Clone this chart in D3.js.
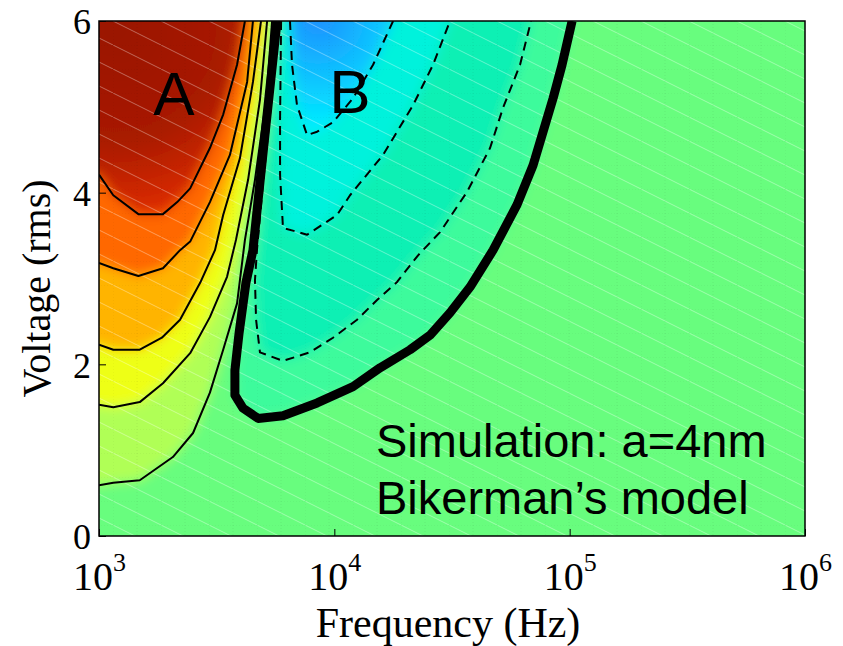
<!DOCTYPE html>
<html>
<head>
<meta charset="utf-8">
<script src="https://cdn.jsdelivr.net/npm/d3@7"></script>
<style>
  body { margin: 0; background: #fff; }
  text { fill: #000; }
</style>
</head>
<body>
<svg id="chart" width="843" height="646"></svg>
<script>
// contour lines, as [frequency (Hz), voltage (rms)]
// positive levels (region A), from the innermost outwards
const contourA1 = [[4170, 6.0], [3860, 5.49], [3370, 4.91], [2960, 4.52], [2440, 4.05], [2150, 3.89], [1870, 3.75], [1470, 3.75], [1150, 3.97], [1000, 4.21]];
const contourA2 = [[4510, 6.0], [4260, 5.29], [3600, 4.44], [2960, 3.89], [2440, 3.43], [2210, 3.33], [1870, 3.12], [1470, 3.03], [1150, 3.12], [1000, 3.18]];
const contourA3 = [[4880, 6.0], [4510, 5.29], [3970, 4.40], [3370, 3.74], [3110, 3.33], [2690, 2.95], [2210, 2.52], [1850, 2.31], [1490, 2.17], [1150, 2.17], [1000, 2.23]];
const contourA4 = [[5180, 6.0], [4830, 5.08], [4300, 4.15], [3820, 3.45], [3500, 3.02], [2960, 2.55], [2440, 2.13], [1870, 1.78], [1490, 1.56], [1150, 1.50], [1000, 1.53]];
const contourA5 = [[5440, 6.0], [5130, 5.08], [4600, 4.15], [4170, 3.45], [3860, 2.71], [3370, 2.17], [2960, 1.67], [2510, 1.20], [2060, 0.92], [1490, 0.65], [1150, 0.62], [1000, 0.59]];

// zero level (thick line)
const contourZero = [[5710, 6.0], [5180, 4.91], [4830, 4.12], [4510, 3.33], [4210, 2.95], [3940, 2.37], [3780, 1.93], [3780, 1.64], [4090, 1.49], [4740, 1.37], [6050, 1.40], [8450, 1.55], [12010, 1.74], [15640, 1.96], [20980, 2.17], [25510, 2.34], [31020, 2.60], [37730, 2.90], [47260, 3.33], [59780, 3.86], [69900, 4.32], [85030, 5.10], [92840, 5.49], [102400, 6.0]];

// negative levels (region B), dashed, from the outermost inwards
const contourB3 = [[5820, 6.0], [5330, 4.91], [4980, 4.12], [4690, 3.33], [4600, 2.98], [4650, 2.52], [4830, 2.14], [6050, 2.04], [7880, 2.14], [9870, 2.31], [12490, 2.52], [15190, 2.75], [18480, 2.96], [22690, 3.27], [28140, 3.54], [36640, 4.01], [45890, 4.52], [52120, 4.99], [61540, 5.49], [68550, 6.0]];
const contourB2 = [[5940, 6.0], [5880, 4.85], [5880, 4.21], [6050, 3.59], [7660, 3.51], [10270, 3.74], [11660, 3.97], [16110, 4.44], [21610, 5.02], [26270, 5.49], [31020, 6.0]];
const contourB1 = [[6480, 6.0], [6610, 5.49], [6940, 5.02], [7660, 4.67], [8450, 4.71], [9870, 4.82], [12010, 5.10], [14610, 5.49], [17770, 6.0]];

const xTicks = [1e3, 1e4, 1e5, 1e6];
const yTicks = [0, 2, 4, 6];

const width = 843;
const height = 646;
const margin = { top: 21, right: 38, bottom: 110, left: 99 };
const plotW = width - margin.left - margin.right;
const plotH = height - margin.top - margin.bottom;

const x = d3.scaleLog().domain([1e3, 1e6]).range([margin.left, margin.left + plotW]);
const y = d3.scaleLinear().domain([0, 6]).range([margin.top + plotH, margin.top]);

const svg = d3.select('#chart');
const defs = svg.append('defs');

defs.append('clipPath').attr('id', 'plot-clip')
    .append('rect')
    .attr('x', margin.left).attr('y', margin.top)
    .attr('width', plotW).attr('height', plotH);

defs.append('filter').attr('id', 'smooth')
    .attr('x', -0.2).attr('y', -0.2).attr('width', 1.4).attr('height', 1.4)
    .append('feGaussianBlur').attr('stdDeviation', 6);

// dark red core inside the innermost A contour
const redGrad = defs.append('radialGradient').attr('id', 'red-core')
    .attr('gradientUnits', 'userSpaceOnUse')
    .attr('cx', 115).attr('cy', 30).attr('r', 200);
redGrad.append('stop').attr('offset', '0%').attr('stop-color', '#9a1400');
redGrad.append('stop').attr('offset', '55%').attr('stop-color', '#a81a00');
redGrad.append('stop').attr('offset', '100%').attr('stop-color', '#e83000');

// blue core inside the innermost B contour
const blueGrad = defs.append('radialGradient').attr('id', 'blue-core')
    .attr('gradientUnits', 'userSpaceOnUse')
    .attr('cx', 318).attr('cy', 18).attr('r', 110);
blueGrad.append('stop').attr('offset', '0%').attr('stop-color', '#1e90ff');
blueGrad.append('stop').attr('offset', '100%').attr('stop-color', '#00eeff');

// the faint mesh left over from the original rendering
const mesh = defs.append('pattern').attr('id', 'mesh')
    .attr('patternUnits', 'userSpaceOnUse')
    .attr('x', 113).attr('y', 21)
    .attr('width', 48).attr('height', 24);
mesh.append('line').attr('x1', 0).attr('y1', 0).attr('x2', 48).attr('y2', 24)
    .attr('stroke', '#fff').attr('stroke-opacity', 0.35).attr('stroke-width', 1);
mesh.append('line').attr('x1', 0).attr('y1', 0).attr('x2', 0).attr('y2', 24)
    .attr('stroke', '#000').attr('stroke-opacity', 0.06).attr('stroke-dasharray', '1,2');
mesh.append('line').attr('x1', 24).attr('y1', 0).attr('x2', 24).attr('y2', 24)
    .attr('stroke', '#000').attr('stroke-opacity', 0.06).attr('stroke-dasharray', '1,2');
mesh.append('line').attr('x1', 0).attr('y1', 0).attr('x2', 48).attr('y2', 0)
    .attr('stroke', '#000').attr('stroke-opacity', 0.06).attr('stroke-dasharray', '1,2');

const toPx = pts => pts.map(d => [x(d[0]), y(d[1])]);
const pad = 50;

// region enclosed by a contour that runs from the top edge to the left edge
function areaTopLeft(pts) {
    const p = toPx(pts);
    const last = p[p.length - 1];
    return [[p[0][0], margin.top - pad], ...p, [margin.left - pad, last[1]], [margin.left - pad, margin.top - pad]];
}
// region enclosed by a contour whose two ends are on the top edge
function areaTop(pts) {
    const p = toPx(pts);
    const last = p[p.length - 1];
    return [[p[0][0], margin.top - pad], ...p, [last[0], margin.top - pad]];
}

const bands = [
    { poly: areaTopLeft(contourA5), fill: '#b0ff56' },
    { poly: areaTopLeft(contourA4), fill: '#eeff14' },
    { poly: areaTopLeft(contourA3), fill: '#ffb400' },
    { poly: areaTopLeft(contourA2), fill: '#ff6800' },
    { poly: areaTopLeft(contourA1), fill: 'url(#red-core)' },
    { poly: areaTop(contourZero), fill: '#3cfb9c' },
    { poly: areaTop(contourB3), fill: '#0af0b4' },
    { poly: areaTop(contourB2), fill: '#00f2dc' },
    { poly: areaTop(contourB1), fill: 'url(#blue-core)' }
];

const plot = svg.append('g').attr('clip-path', 'url(#plot-clip)');
const field = plot.append('g').attr('filter', 'url(#smooth)');

field.append('rect')
    .attr('x', margin.left - pad).attr('y', margin.top - pad)
    .attr('width', plotW + 2 * pad).attr('height', plotH + 2 * pad)
    .attr('fill', '#68fd7e');

field.selectAll('path.band')
    .data(bands)
    .enter()
    .append('path')
    .attr('class', 'band')
    .attr('d', d => 'M' + d.poly.join('L') + 'Z')
    .attr('fill', d => d.fill);

plot.append('rect')
    .attr('x', margin.left).attr('y', margin.top)
    .attr('width', plotW).attr('height', plotH)
    .attr('fill', 'url(#mesh)');

const line = d3.line()
    .x(d => x(d[0]))
    .y(d => y(d[1]));

const lines = plot.append('g').attr('fill', 'none').attr('stroke', '#000')
    .attr('stroke-linejoin', 'round');

lines.selectAll('path.solid')
    .data([contourA1, contourA2, contourA3, contourA4, contourA5])
    .enter()
    .append('path')
    .attr('class', 'solid')
    .attr('d', line)
    .attr('stroke-width', 2);

lines.selectAll('path.dashed')
    .data([contourB1, contourB2, contourB3])
    .enter()
    .append('path')
    .attr('class', 'dashed')
    .attr('d', line)
    .attr('stroke-width', 2)
    .attr('stroke-dasharray', '9,6');

lines.append('path')
    .datum(contourZero)
    .attr('d', line)
    .attr('stroke-width', 9);

// region labels and annotation
const sans = 'Arial, "Liberation Sans", sans-serif';
svg.append('text').attr('x', 174).attr('y', 115).attr('text-anchor', 'middle')
    .attr('font-family', sans).attr('font-size', 62).text('A');
svg.append('text').attr('x', 350).attr('y', 113).attr('text-anchor', 'middle')
    .attr('font-family', sans).attr('font-size', 62).text('B');
svg.append('text').attr('x', 376).attr('y', 457)
    .attr('font-family', sans).attr('font-size', 47).text('Simulation: a=4nm');
svg.append('text').attr('x', 376).attr('y', 514)
    .attr('font-family', sans).attr('font-size', 47).text('Bikerman\u2019s model');

// axes
const serif = '"Times New Roman", "Liberation Serif", serif';

const xAxis = svg.append('g')
    .attr('transform', `translate(0,${margin.top + plotH})`)
    .call(d3.axisBottom(x).tickValues(xTicks).tickSize(-7).tickPadding(14).tickFormat(() => ''));
xAxis.select('.domain').remove();
xAxis.selectAll('.tick line').attr('stroke', '#000');
xAxis.selectAll('.tick text')
    .attr('font-family', serif).attr('font-size', 40).attr('dy', '1em')
    .each(function (d) {
        const t = d3.select(this);
        t.append('tspan').text('10');
        t.append('tspan').attr('font-size', 26).attr('dy', '-0.75em').text(Math.round(Math.log10(d)));
    });

const yAxis = svg.append('g')
    .attr('transform', `translate(${margin.left},0)`)
    .call(d3.axisLeft(y).tickValues(yTicks).tickSize(-7).tickPadding(8).tickFormat(d3.format('d')));
yAxis.select('.domain').remove();
yAxis.selectAll('.tick line').attr('stroke', '#000');
yAxis.selectAll('.tick text').attr('font-family', serif).attr('font-size', 36).attr('dy', '0.36em');

svg.append('rect')
    .attr('x', margin.left).attr('y', margin.top)
    .attr('width', plotW).attr('height', plotH)
    .attr('fill', 'none').attr('stroke', '#000').attr('stroke-width', 1.5);

svg.append('text')
    .attr('x', margin.left + plotW / 2 - 4).attr('y', 637)
    .attr('text-anchor', 'middle')
    .attr('font-family', serif).attr('font-size', 42)
    .text('Frequency (Hz)');

svg.append('text')
    .attr('transform', `translate(50,${margin.top + plotH / 2 + 10}) rotate(-90)`)
    .attr('text-anchor', 'middle')
    .attr('font-family', serif).attr('font-size', 40)
    .text('Voltage (rms)');
</script>
</body>
</html>
